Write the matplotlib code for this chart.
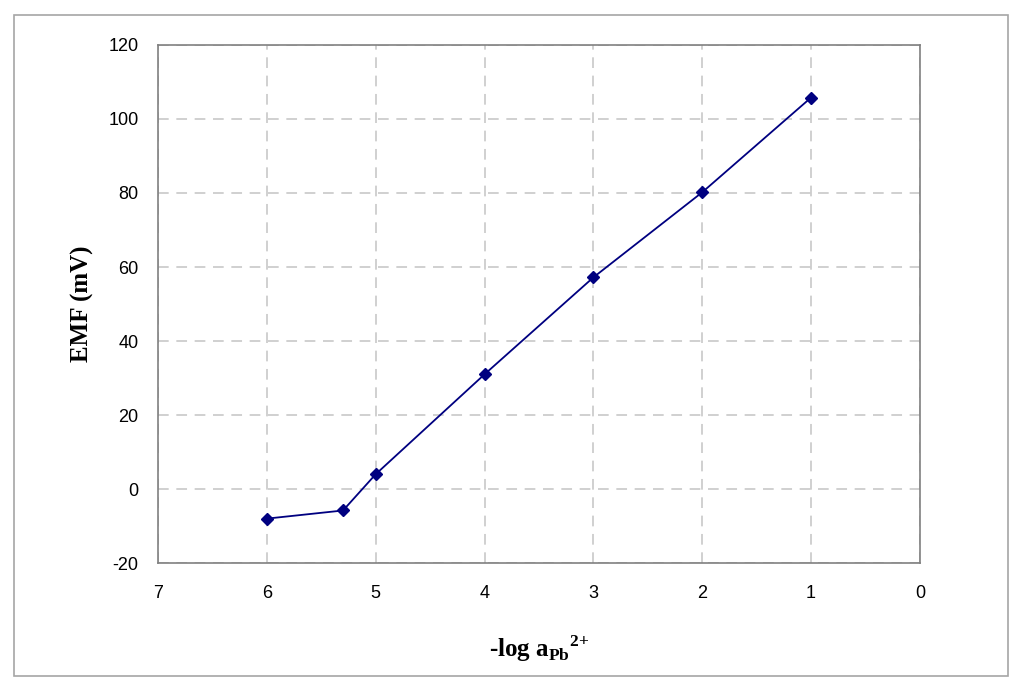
"""EMF vs -log a(Pb2+) calibration plot."""
import matplotlib
matplotlib.use('Agg')
from matplotlib import pyplot as plt
from matplotlib.patches import Rectangle

plt.rcParams['mathtext.fontset'] = 'custom'
plt.rcParams['mathtext.rm'] = 'Liberation Serif'
plt.rcParams['mathtext.bf'] = 'Liberation Serif:bold'

log_activity = [6, 5.3, 5, 4, 3, 2, 1]
emf_mv = [-8.0, -5.8, 4.0, 31.0, 57.2, 80.2, 105.8]

x_ticks = [7, 6, 5, 4, 3, 2, 1, 0]
y_ticks = [-20, 0, 20, 40, 60, 80, 100, 120]

fig = plt.figure(figsize=(10.24, 6.91), dpi=100)
ax = fig.add_axes([0.1543, 0.1852, 0.7441, 0.7497])

# cornice esterna
fig.patches.append(Rectangle((14 / 1024, 15 / 691), 994 / 1024, 661 / 691,
                             transform=fig.transFigure, fill=False,
                             edgecolor='#a6a6a6', linewidth=1.2))

ax.plot(log_activity, emf_mv, color='#000080', linewidth=1.3,
        marker='D', markersize=6.5, markerfacecolor='#000080',
        markeredgecolor='#000080')

ax.set_xlim(7, 0)
ax.set_ylim(-20, 120)
ax.set_xticks(x_ticks)
ax.set_yticks(y_ticks)
ax.set_xticklabels([str(t) for t in x_ticks], fontfamily='Liberation Sans',
                   fontsize=13)
ax.set_yticklabels([str(t) for t in y_ticks], fontfamily='Liberation Sans',
                   fontsize=13)
ax.tick_params(axis='x', length=0, pad=16)
ax.tick_params(axis='y', length=0, pad=14)

ax.grid(True, color='#c4c4c4', linestyle=(0, (7, 5)), linewidth=1.1)
ax.set_axisbelow(True)
for s in ax.spines.values():
    s.set_color('#808080')
    s.set_linewidth(1.2)

ax.set_ylabel('EMF (mV)', fontfamily='Liberation Serif', fontweight='bold',
              fontsize=18, labelpad=10)
ax.set_xlabel(r'-log a$_{\mathbf{Pb}}{}^{\mathbf{2{+}}}$',
              fontfamily='Liberation Serif', fontweight='bold', fontsize=18,
              labelpad=22)

fig.savefig('out.png', dpi=100)
